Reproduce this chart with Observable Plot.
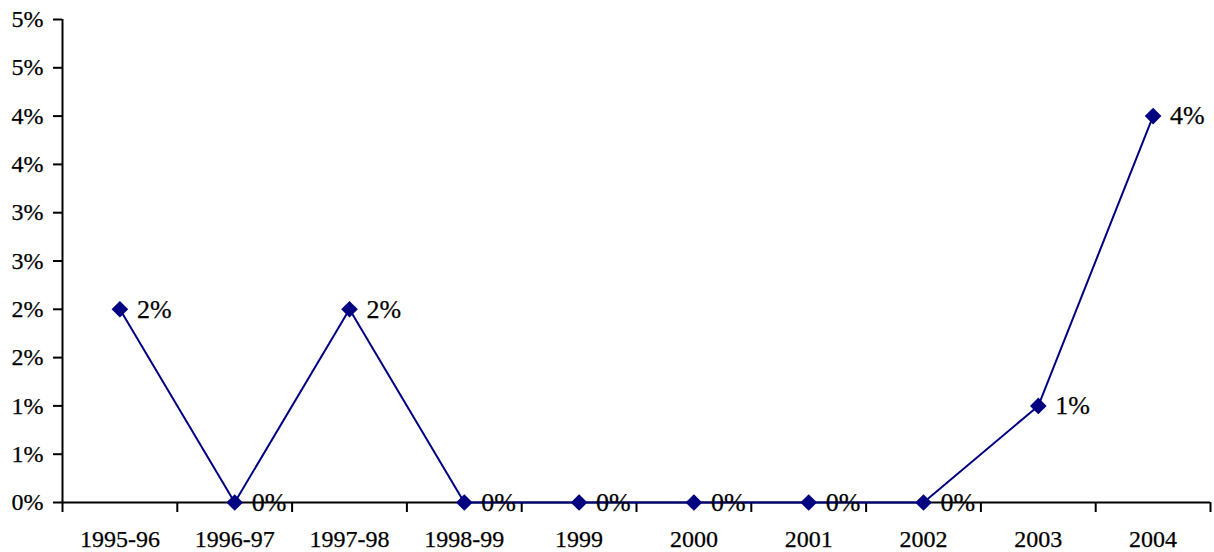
<!DOCTYPE html>
<html>
<head>
<meta charset="utf-8">
<script src="https://cdn.jsdelivr.net/npm/d3@7"></script>
<script src="https://cdn.jsdelivr.net/npm/@observablehq/plot@0.6"></script>
<style>
  html, body { margin: 0; padding: 0; background: #fff; }
  #chart svg { display: block; }
  #chart svg text { stroke: #000; stroke-width: 0.25px; font-family: "Liberation Serif", "Times New Roman", serif; }
</style>
</head>
<body>
<div id="chart"></div>
<script>
const categories = ["1995-96", "1996-97", "1997-98", "1998-99", "1999", "2000", "2001", "2002", "2003", "2004"];
const values = [2, 0, 2, 0, 0, 0, 0, 0, 1, 4];
const valueLabels = ["2%", "0%", "2%", "0%", "0%", "0%", "0%", "0%", "1%", "4%"];
const yTicks = [0, 0.5, 1, 1.5, 2, 2.5, 3, 3.5, 4, 4.5, 5];
const yTickLabels = ["0%", "1%", "1%", "2%", "2%", "3%", "3%", "4%", "4%", "5%", "5%"];

const data = categories.map((c, i) => ({i, cat: c, v: values[i], label: valueLabels[i]}));
const xIdx = categories.map((c, i) => i);
const boundaries = categories.map((c, i) => i - 0.5).concat([categories.length - 0.5]);
const font = "'Liberation Serif', 'Times New Roman', serif";

const chart = Plot.plot({
  width: 1214,
  height: 552,
  marginLeft: 62,
  marginRight: 4,
  marginTop: 19,
  marginBottom: 50,
  style: {fontFamily: font, fontSize: "24px", color: "#000", background: "#fff"},
  x: {type: "linear", domain: [-0.5, categories.length - 0.5]},
  y: {domain: [0, 5]},
  marks: [
    Plot.axisY({ticks: yTicks, tickFormat: (d, i) => yTickLabels[i], tickSize: 9, tickPadding: 10, label: null, stroke: "#000", strokeWidth: 2, fontSize: 24}),
    Plot.axisX({ticks: boundaries, tickFormat: () => "", tickSize: 10, label: null, stroke: "#000", strokeWidth: 2}),
    Plot.axisX({ticks: xIdx, tickFormat: (d) => categories[d], tickSize: 0, tickPadding: 27, label: null, fontSize: 24}),
    Plot.ruleX([-0.5], {stroke: "#000", strokeWidth: 2}),
    Plot.ruleY([0], {stroke: "#000", strokeWidth: 2}),
    Plot.line(data, {x: "i", y: "v", stroke: "#000080", strokeWidth: 2}),
    Plot.dot(data, {x: "i", y: "v", symbol: "diamond2", fill: "#000080", stroke: "none", r: 7.5}),
    Plot.text(data, {x: "i", y: "v", text: "label", dx: 17, textAnchor: "start", fill: "#000", fontSize: 26})
  ]
});
document.getElementById("chart").appendChild(chart);
</script>
</body>
</html>
